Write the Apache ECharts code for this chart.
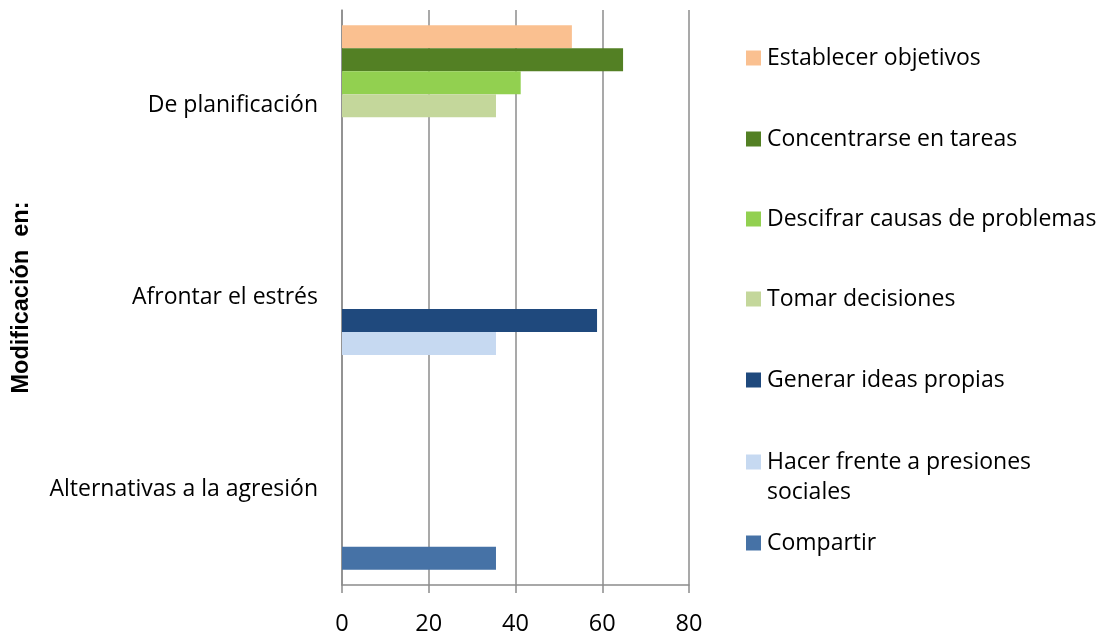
<!DOCTYPE html>
<html>
<head>
<meta charset="utf-8">
<script src="https://cdn.jsdelivr.net/npm/echarts@6/dist/echarts.min.js"></script>
<style>
html,body{margin:0;padding:0;background:#fff;}
#chart{width:1102px;height:632px;}
</style>
</head>
<body>
<div id="chart"></div>
<script>
const categories = ['De planificación', 'Afrontar el estrés', 'Alternativas a la agresión'];
const seriesNames = ['Establecer objetivos', 'Concentrarse en tareas', 'Descifrar causas de problemas', 'Tomar decisiones', 'Generar ideas propias', 'Hacer frente a presiones sociales', 'Compartir'];
const establecerObjetivos = [53, null, null];
const concentrarseEnTareas = [64.8, null, null];
const descifrarCausas = [41.2, null, null];
const tomarDecisiones = [35.5, null, null];
const generarIdeas = [null, 58.8, null];
const hacerFrente = [null, 35.5, null];
const compartir = [null, null, 35.5];
const xTicks = { min: 0, max: 80, interval: 20 };
const axisTitle = 'Modificación  en:';

const values = [establecerObjetivos, concentrarseEnTareas, descifrarCausas, tomarDecisiones, generarIdeas, hacerFrente, compartir];
const colors = ['#FAC090', '#538024', '#92D050', '#C4D79B', '#1F497D', '#C6D9F1', '#4672A6'];
const legendCenters = [58, 139, 219, 299, 380, 462, 543];
const FONT = 'Open Sans';
const FS = 23;
const LH = 30;
const gridColor = '#8c8c8c';

const chart = echarts.init(document.getElementById('chart'));

const legends = seriesNames.map((name, i) => {
  const twoLine = name === 'Hacer frente a presiones sociales';
  return {
    orient: 'vertical',
    left: 746,
    top: twoLine ? legendCenters[i] - 1.5 * LH : legendCenters[i] - LH / 2,
    padding: 0,
    itemWidth: 15,
    itemHeight: 15,
    icon: 'rect',
    selectedMode: false,
    data: [name],
    formatter: twoLine ? () => '\nHacer frente a presiones\nsociales' : undefined,
    textStyle: {
      fontFamily: FONT,
      fontSize: FS,
      color: '#000',
      lineHeight: LH,
      padding: [0, 0, 0, 1]
    }
  };
});

chart.setOption({
  animation: false,
  color: colors,
  textStyle: { fontFamily: FONT },
  grid: { left: 342, right: 413, top: 10, bottom: 47, containLabel: false, outerBoundsMode: 'none' },
  legend: legends,
  xAxis: {
    type: 'value',
    min: xTicks.min,
    max: xTicks.max,
    interval: xTicks.interval,
    axisLine: { show: true, lineStyle: { color: gridColor, width: 1.5 } },
    axisTick: { show: true, length: 8, lineStyle: { color: gridColor, width: 1.5 } },
    splitLine: { show: true, lineStyle: { color: gridColor, width: 1.5 } },
    axisLabel: { fontFamily: FONT, fontSize: 23.5, color: '#000', margin: 27 }
  },
  yAxis: {
    type: 'category',
    inverse: true,
    data: categories,
    name: axisTitle,
    nameLocation: 'middle',
    nameRotate: 90,
    nameGap: 308,
    nameTextStyle: { fontFamily: 'Liberation Sans', fontSize: 23.5, fontWeight: 'bold', color: '#000' },
    axisLine: { show: true, lineStyle: { color: gridColor, width: 1.5 } },
    axisTick: { show: false },
    axisLabel: { fontFamily: FONT, fontSize: FS, color: '#000', margin: 24 }
  },
  series: seriesNames.map((name, i) => ({
    name: name,
    type: 'bar',
    data: values[i],
    barGap: '0%',
    barCategoryGap: '16%',
    itemStyle: { color: colors[i] }
  }))
});
</script>
</body>
</html>
